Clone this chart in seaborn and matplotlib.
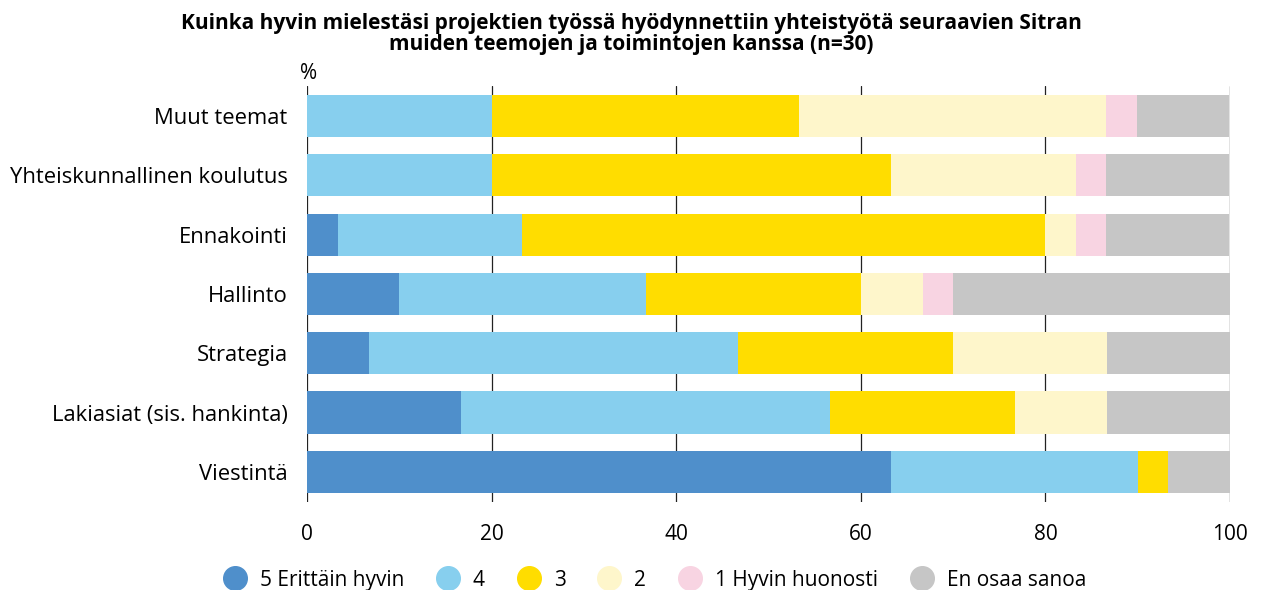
import numpy as np
import pandas as pd
import matplotlib
matplotlib.use("Agg")
import matplotlib.pyplot as plt
from matplotlib.lines import Line2D
import seaborn as sns

# data (percent, n=30)
categories = ["Muut teemat", "Yhteiskunnallinen koulutus", "Ennakointi", "Hallinto",
              "Strategia", "Lakiasiat (sis. hankinta)", "Viestintä"]
v5 = [0, 0, 3.3, 10, 6.7, 16.7, 63.3]
v4 = [20, 20, 20, 26.7, 40, 40, 26.7]
v3 = [33.3, 43.3, 56.7, 23.3, 23.3, 20, 3.3]
v2 = [33.3, 20, 3.3, 6.7, 16.7, 10, 0]
v1 = [3.3, 3.3, 3.3, 3.3, 0, 0, 0]
v_eos = [10, 13.3, 13.3, 30, 13.3, 13.3, 6.7]

labels = ["5 Erittäin hyvin", "4", "3", "2", "1 Hyvin huonosti", "En osaa sanoa"]
colors = ["#4f8fcb", "#87cfee", "#ffdd00", "#fef6cb", "#f8d4e2", "#c6c6c6"]

df = pd.DataFrame({"Teema": categories, labels[0]: v5, labels[1]: v4, labels[2]: v3,
                   labels[3]: v2, labels[4]: v1, labels[5]: v_eos})

sns.set_style("white")
plt.rcParams["font.family"] = ["Open Sans", "DejaVu Sans"]
plt.rcParams["text.color"] = "black"
plt.rcParams["xtick.color"] = "black"
plt.rcParams["ytick.color"] = "black"

fig = plt.figure(figsize=(12.62, 5.90), dpi=100)
ax = fig.add_axes([0.2433, 0.150, 0.7314, 0.7036])

# cumulative bars, drawn from the full length down so each segment shows
cum = df[labels].cumsum(axis=1)
for lab, col in reversed(list(zip(labels, colors))):
    sns.barplot(x=cum[lab], y=df["Teema"], color=col, orient="h", width=0.71,
                saturation=1, linewidth=0, edgecolor="none", ax=ax, zorder=2)

ax.set_xlim(0, 100)
ax.set_ylim(6.5, -0.5)
ax.set_xticks([0, 20, 40, 60, 80, 100])
ax.grid(axis="x", color="#222222", linewidth=0.9)
ax.grid(axis="y", visible=False)
ax.set_axisbelow(True)
for s in ax.spines.values():
    s.set_visible(False)
ax.set_xlabel("")
ax.set_ylabel("")
ax.tick_params(axis="x", length=9, width=0.9, color="#222222", labelsize=15, pad=7)
ax.tick_params(axis="y", length=0, labelsize=15.8, pad=14)

ax.text(-0.008, 1.005, "%", transform=ax.transAxes, fontsize=15, ha="left", va="bottom")

fig.suptitle("Kuinka hyvin mielestäsi projektien työssä hyödynnettiin yhteistyötä seuraavien Sitran\n"
             "muiden teemojen ja toimintojen kanssa (n=30)",
             x=0.5, y=0.978, fontsize=15, fontweight="bold", linespacing=0.98)

handles = [Line2D([0], [0], marker="o", linestyle="none", markersize=17,
                  markerfacecolor=c, markeredgecolor=c) for c in colors]
fig.legend(handles, labels, loc="lower center", bbox_to_anchor=(0.515, -0.033), ncol=6,
           frameon=False, fontsize=15, handletextpad=0.2, columnspacing=1.1)

fig.savefig("out.png", dpi=100)
